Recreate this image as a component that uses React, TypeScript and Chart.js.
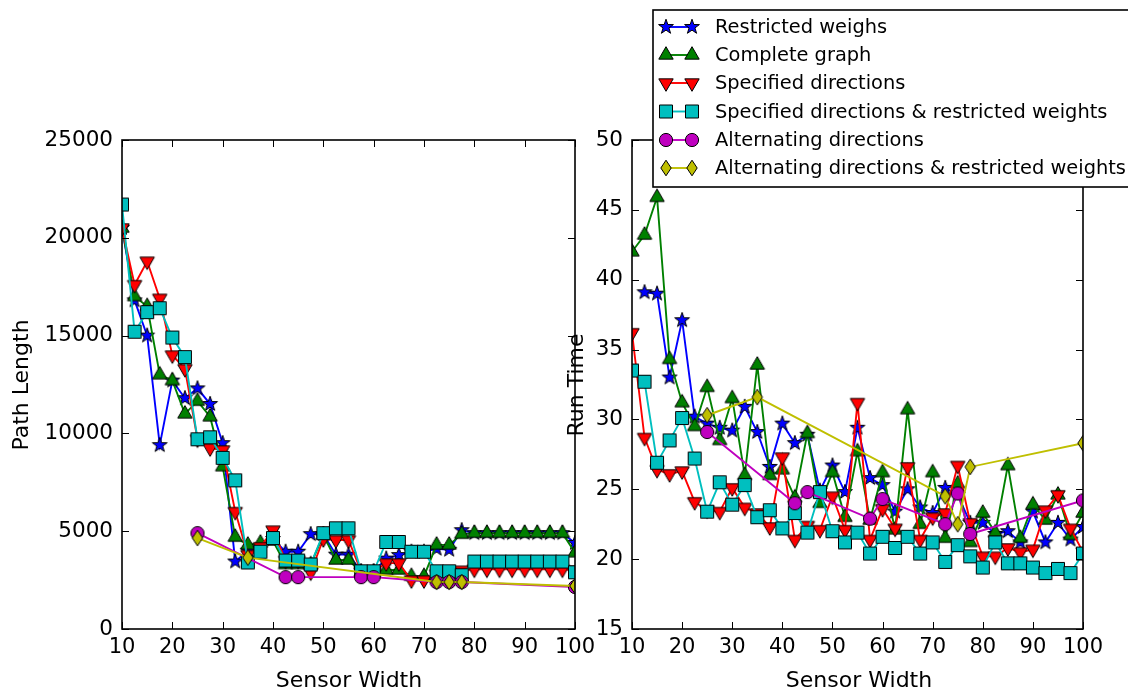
import React, { useEffect, useRef } from 'react';
import { Chart, registerables } from 'chart.js';

Chart.register(...registerables);

// ---------- data ----------
const sensorWidths = [10, 12.5, 15, 17.5, 20, 22.5, 25, 27.5, 30, 32.5, 35, 37.5, 40, 42.5, 45, 47.5, 50, 52.5, 55, 57.5, 60, 62.5, 65, 67.5, 70, 72.5, 75, 77.5, 80, 82.5, 85, 87.5, 90, 92.5, 95, 97.5, 100];
const alternatingWidths = [25, 42.5, 45, 57.5, 60, 72.5, 75, 77.5, 100];
const alternatingRestrictedWidths = [25, 35, 72.5, 75, 77.5, 100];

const seriesLabels = [
  'Restricted weighs',
  'Complete graph',
  'Specified directions',
  'Specified directions & restricted weights',
  'Alternating directions',
  'Alternating directions & restricted weights',
];

// Path length (left panel)
const pathRestricted = [20500, 16800, 15000, 9400, 12700, 11800, 12300, 11500, 9500, 3450, 4000, 4200, 4600, 3950, 3950, 4850, 4850, 3800, 3800, 2950, 2950, 3600, 3780, 3950, 3950, 4100, 4050, 5050, 4900, 4900, 4900, 4900, 4900, 4900, 4900, 4900, 4400];
const pathComplete = [20500, 17000, 16500, 13000, 12700, 11000, 11650, 10850, 8300, 4700, 4300, 4400, 4500, 3300, 3300, 3300, 4800, 3530, 3530, 2900, 2900, 3020, 3020, 2700, 2700, 4300, 4300, 4850, 4900, 4900, 4900, 4900, 4900, 4900, 4900, 4900, 3900];
const pathSpecified = [20500, 17600, 18800, 16900, 14000, 13300, 9700, 9250, 9150, 6000, 3800, 4200, 5050, 3500, 3500, 2900, 4600, 4550, 4550, 2950, 2950, 3370, 3370, 2500, 2500, 2800, 2800, 3000, 3050, 3050, 3050, 3050, 3050, 3050, 3050, 3050, 3000];
const pathSpecifiedRestricted = [21700, 15200, 16200, 16400, 14900, 13900, 9700, 9800, 8750, 7600, 3400, 3950, 4650, 3500, 3500, 3300, 4900, 5150, 5150, 2950, 2950, 4450, 4450, 3950, 3950, 2950, 2950, 2750, 3450, 3450, 3450, 3450, 3450, 3450, 3450, 3450, 2900];
const pathAlternating = [4900, 2650, 2650, 2650, 2650, 2400, 2400, 2400, 2150];
const pathAlternatingRestricted = [4650, 3650, 2400, 2400, 2400, 2200];

// Run time (right panel)
const timeRestricted = [null, 39.1, 39.0, 33.0, 37.1, 30.2, 29.7, 29.4, 29.2, 30.9, 29.1, 26.6, 29.7, 28.3, 28.9, 24.9, 26.7, 24.8, 29.4, 25.8, 25.3, 23.4, 25.0, 23.7, 23.3, 25.1, 24.6, 22.6, 22.6, 21.8, 22.0, 21.2, 23.4, 21.2, 22.6, 21.4, 22.3];
const timeComplete = [42.0, 43.2, 45.9, 34.3, 31.2, 29.5, 32.3, 28.5, 31.5, 26.0, 33.9, 26.0, 26.4, 24.4, 29.0, 24.0, 26.2, 23.0, 27.7, 22.8, 26.2, 22.1, 30.7, 22.5, 26.2, 21.5, 25.4, 21.2, 23.3, 21.9, 26.7, 21.5, 23.9, 22.8, 24.6, 21.7, 23.3];
const timeSpecified = [36.2, 28.7, 26.4, 26.1, 26.3, 24.1, 23.5, 23.4, 25.1, 23.7, 23.3, 22.3, 27.3, 21.4, 22.4, 22.1, 24.5, 22.1, 31.2, 21.4, 23.6, 22.2, 26.6, 21.4, 23.0, 23.3, 26.7, 22.6, 20.2, 20.2, 20.8, 20.5, 20.7, 23.5, 24.6, 22.2, 20.5];
const timeSpecifiedRestricted = [33.5, 32.7, 26.9, 28.5, 30.1, 27.2, 23.4, 25.5, 23.9, 25.3, 23.0, 23.5, 22.2, 23.3, 21.9, 24.8, 22.0, 21.2, 21.9, 20.4, 21.6, 20.8, 21.6, 20.4, 21.2, 19.8, 21.0, 20.2, 19.4, 21.2, 19.7, 19.7, 19.4, 19.0, 19.3, 19.0, 20.4];
const timeAlternating = [29.1, 24.0, 24.8, 22.9, 24.3, 22.5, 24.7, 21.8, 24.2];
const timeAlternatingRestricted = [30.3, 31.6, 24.5, 22.5, 26.6, 28.3];

const seriesColors = ['#0000ff', '#008000', '#ff0000', '#00bfbf', '#bf00bf', '#bfbf00'];
const seriesShapes = ['star', 'triUp', 'triDown', 'square', 'circle', 'diamond'];

const xTicks = { min: 10, max: 100, step: 10 };
const pathTicks = { min: 0, max: 25000, step: 5000 };
const timeTicks = { min: 15, max: 50, step: 5 };

// ---------- helpers ----------
const W = 1128;
const H = 694;
const FONT = "'DejaVu Sans', 'Liberation Sans', sans-serif";

function traceShape(ctx: CanvasRenderingContext2D, shape: string, cx: number, cy: number) {
  ctx.beginPath();
  if (shape === 'star') {
    const R = 7.8, r = 3.1;
    for (let i = 0; i < 10; i++) {
      const rad = i % 2 === 0 ? R : r;
      const a = -Math.PI / 2 + (i * Math.PI) / 5;
      const px = cx + rad * Math.cos(a), py = cy + rad * Math.sin(a);
      if (i === 0) ctx.moveTo(px, py); else ctx.lineTo(px, py);
    }
  } else if (shape === 'triUp') {
    const R = 8.3;
    ctx.moveTo(cx, cy - R);
    ctx.lineTo(cx + R * 0.866, cy + R * 0.5);
    ctx.lineTo(cx - R * 0.866, cy + R * 0.5);
  } else if (shape === 'triDown') {
    const R = 8.3;
    ctx.moveTo(cx, cy + R);
    ctx.lineTo(cx + R * 0.866, cy - R * 0.5);
    ctx.lineTo(cx - R * 0.866, cy - R * 0.5);
  } else if (shape === 'square') {
    ctx.rect(cx - 6.5, cy - 6.5, 13, 13);
  } else if (shape === 'circle') {
    ctx.arc(cx, cy, 6.6, 0, Math.PI * 2);
  } else if (shape === 'diamond') {
    ctx.moveTo(cx, cy - 7.8);
    ctx.lineTo(cx + 5.2, cy);
    ctx.lineTo(cx, cy + 7.8);
    ctx.lineTo(cx - 5.2, cy);
  }
  ctx.closePath();
}

function drawMarker(ctx: CanvasRenderingContext2D, shape: string, fill: string, cx: number, cy: number) {
  traceShape(ctx, shape, cx, cy);
  ctx.fillStyle = fill;
  ctx.fill();
  ctx.lineWidth = 1;
  ctx.strokeStyle = '#000';
  ctx.stroke();
}

function makeMarker(shape: string, fill: string) {
  const c = document.createElement('canvas');
  c.width = 20;
  c.height = 20;
  const ctx = c.getContext('2d')!;
  drawMarker(ctx, shape, fill, 10, 10);
  return c;
}

function toPoints(xs: number[], ys: (number | null)[]) {
  return xs.map((x, i) => ({ x, y: ys[i] }));
}

function buildDatasets(series: { xs: number[]; ys: (number | null)[] }[]) {
  return series.map((s, i) => ({
    label: seriesLabels[i],
    data: toPoints(s.xs, s.ys),
    borderColor: seriesColors[i],
    backgroundColor: seriesColors[i],
    borderWidth: 1.9,
    pointStyle: makeMarker(seriesShapes[i], seriesColors[i]),
    pointRadius: 6,
    pointHoverRadius: 6,
    tension: 0,
    clip: 0,
    spanGaps: false,
    order: series.length - i,
  }));
}

function makePanelPlugin(xTitle: string, yTitle: string, xTitlePos: number[], yTitlePos: number[], withLegend: boolean) {
  return {
    id: 'panel_' + yTitle.replace(/\s/g, ''),
    afterDatasetsDraw(chart: any) {
      const { ctx, chartArea: a, scales } = chart;
      ctx.save();
      ctx.strokeStyle = '#000';
      ctx.lineWidth = 1;
      const tl = 7;
      scales.x.ticks.forEach((t: any) => {
        const px = Math.round(scales.x.getPixelForValue(t.value)) + 0.5;
        ctx.beginPath();
        ctx.moveTo(px, a.bottom); ctx.lineTo(px, a.bottom - tl);
        ctx.moveTo(px, a.top); ctx.lineTo(px, a.top + tl);
        ctx.stroke();
      });
      scales.y.ticks.forEach((t: any) => {
        const py = Math.round(scales.y.getPixelForValue(t.value)) + 0.5;
        ctx.beginPath();
        ctx.moveTo(a.left, py); ctx.lineTo(a.left + tl, py);
        ctx.moveTo(a.right, py); ctx.lineTo(a.right - tl, py);
        ctx.stroke();
      });
      ctx.lineWidth = 1.6;
      ctx.strokeRect(a.left, a.top, a.right - a.left, a.bottom - a.top);
      ctx.restore();
    },
    afterDraw(chart: any) {
      const { ctx } = chart;
      ctx.save();
      ctx.fillStyle = '#000';
      ctx.font = `22px ${FONT}`;
      ctx.textAlign = 'center';
      ctx.textBaseline = 'middle';
      ctx.fillText(xTitle, xTitlePos[0], xTitlePos[1]);
      ctx.translate(yTitlePos[0], yTitlePos[1]);
      ctx.rotate(-Math.PI / 2);
      ctx.fillText(yTitle, 0, 0);
      ctx.restore();

      if (withLegend) {
        ctx.save();
        const bx = 653, by = 10, bw = 500, bh = 177;
        ctx.fillStyle = '#fff';
        ctx.fillRect(bx, by, bw, bh);
        ctx.strokeStyle = '#000';
        ctx.lineWidth = 1.6;
        ctx.strokeRect(bx, by, bw, bh);
        const rows = [27, 55, 83, 111.5, 140, 168];
        ctx.font = `19.4px ${FONT}`;
        ctx.textAlign = 'left';
        ctx.textBaseline = 'middle';
        rows.forEach((ry, i) => {
          ctx.strokeStyle = seriesColors[i];
          ctx.lineWidth = 1.9;
          ctx.beginPath();
          ctx.moveTo(666, ry);
          ctx.lineTo(692, ry);
          ctx.stroke();
          drawMarker(ctx, seriesShapes[i], seriesColors[i], 666, ry);
          drawMarker(ctx, seriesShapes[i], seriesColors[i], 692, ry);
          ctx.fillStyle = '#000';
          ctx.fillText(seriesLabels[i], 715, ry + 1);
        });
        ctx.restore();
      }
    },
  };
}

function makeConfig(
  datasets: any[],
  yRange: { min: number; max: number; step: number },
  area: { left: number; right: number; top: number; bottom: number },
  plugin: any
) {
  return {
    type: 'line' as const,
    data: { datasets },
    options: {
      responsive: false,
      animation: false as const,
      devicePixelRatio: 1,
      events: [] as any[],
      layout: { padding: { left: 0, right: W - area.right, top: area.top, bottom: 0 } },
      plugins: { legend: { display: false }, tooltip: { enabled: false } },
      scales: {
        x: {
          type: 'linear' as const,
          min: xTicks.min,
          max: xTicks.max,
          afterFit: (s: any) => { s.height = H - area.bottom; },
          grid: { display: false, drawTicks: false },
          border: { display: false },
          ticks: {
            stepSize: xTicks.step,
            color: '#000',
            padding: 6,
            maxRotation: 0,
            font: { family: FONT, size: 21 },
            callback: (v: any) => String(v),
          },
        },
        y: {
          type: 'linear' as const,
          min: yRange.min,
          max: yRange.max,
          afterFit: (s: any) => { s.width = area.left; },
          grid: { display: false, drawTicks: false },
          border: { display: false },
          ticks: {
            stepSize: yRange.step,
            color: '#000',
            padding: 9,
            font: { family: FONT, size: 21.5 },
            callback: (v: any) => String(v),
          },
        },
      },
    },
    plugins: [plugin],
  };
}

export default function App() {
  const leftRef = useRef<HTMLCanvasElement>(null);
  const rightRef = useRef<HTMLCanvasElement>(null);

  useEffect(() => {
    const leftDatasets = buildDatasets([
      { xs: sensorWidths, ys: pathRestricted },
      { xs: sensorWidths, ys: pathComplete },
      { xs: sensorWidths, ys: pathSpecified },
      { xs: sensorWidths, ys: pathSpecifiedRestricted },
      { xs: alternatingWidths, ys: pathAlternating },
      { xs: alternatingRestrictedWidths, ys: pathAlternatingRestricted },
    ]);
    const rightDatasets = buildDatasets([
      { xs: sensorWidths, ys: timeRestricted },
      { xs: sensorWidths, ys: timeComplete },
      { xs: sensorWidths, ys: timeSpecified },
      { xs: sensorWidths, ys: timeSpecifiedRestricted },
      { xs: alternatingWidths, ys: timeAlternating },
      { xs: alternatingRestrictedWidths, ys: timeAlternatingRestricted },
    ]);

    const left = new Chart(
      leftRef.current!,
      makeConfig(
        leftDatasets,
        pathTicks,
        { left: 122, right: 575, top: 140, bottom: 629 },
        makePanelPlugin('Sensor Width', 'Path Length', [349, 681], [22, 385], false)
      ) as any
    );
    const right = new Chart(
      rightRef.current!,
      makeConfig(
        rightDatasets,
        timeTicks,
        { left: 632, right: 1083, top: 140, bottom: 629 },
        makePanelPlugin('Sensor Width', 'Run Time', [859, 681], [577, 385], true)
      ) as any
    );
    return () => {
      left.destroy();
      right.destroy();
    };
  }, []);

  const canvasStyle: React.CSSProperties = { position: 'absolute', left: 0, top: 0, width: W, height: H };
  return (
    <div style={{ position: 'absolute', left: 0, top: 0, width: W, height: H, background: '#fff', overflow: 'hidden' }}>
      <canvas ref={leftRef} width={W} height={H} style={canvasStyle} />
      <canvas ref={rightRef} width={W} height={H} style={canvasStyle} />
    </div>
  );
}
